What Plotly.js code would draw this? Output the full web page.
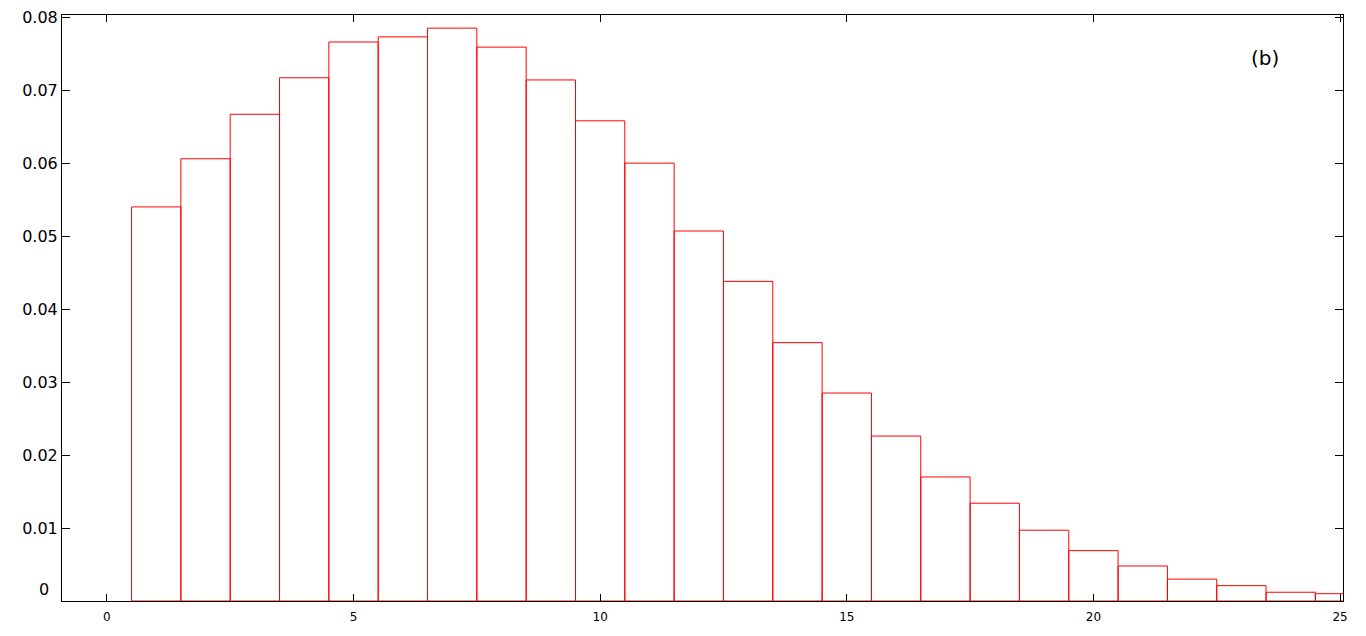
<!DOCTYPE html>
<html>
<head>
<meta charset="utf-8">
<script src="https://cdn.plot.ly/plotly-3.0.1.min.js"></script>
<style>
html,body{margin:0;padding:0;background:#fff;}
#chart{width:1366px;height:636px;}
</style>
</head>
<body>
<div id="chart"></div>
<script>
const binCenters = [1,2,3,4,5,6,7,8,9,10,11,12,13,14,15,16,17,18,19,20,21,22,23,24,25];
const frequencies = [0.0540,0.0606,0.0667,0.0717,0.0766,0.0773,0.0785,0.0759,0.0714,0.0658,
                     0.0600,0.0507,0.0438,0.0354,0.0285,0.0226,0.0170,0.0134,0.0097,0.0069,
                     0.0048,0.0030,0.0021,0.0012,0.0010];
const xTickVals = [0,5,10,15,20,25];
const yTickVals = [0,0.01,0.02,0.03,0.04,0.05,0.06,0.07,0.08];
const yTickText = ['','0.01','0.02','0.03','0.04','0.05','0.06','0.07','0.08'];
const yZeroLabel = '0';
const panelLabel = '(b)';

const trace = {
  type: 'bar',
  x: binCenters,
  y: frequencies,
  width: 1,
  marker: {color: 'rgba(0,0,0,0)', line: {color: '#ff0000', width: 1}},
  hoverinfo: 'x+y'
};

const layout = {
  width: 1366, height: 636,
  margin: {l: 62, r: 23, t: 15, b: 35, pad: 0},
  paper_bgcolor: '#ffffff', plot_bgcolor: '#ffffff',
  showlegend: false,
  bargap: 0,
  font: {family: 'DejaVu Sans, sans-serif', color: '#000000'},
  xaxis: {
    range: [-0.91, 25.06],
    tickvals: xTickVals,
    ticktext: xTickVals.map(String),
    ticks: 'inside', ticklen: 7, tickwidth: 1, tickcolor: '#000',
    showline: true, linecolor: '#000', linewidth: 1, mirror: 'ticks',
    showgrid: false, zeroline: false, layer: 'above traces',
    ticklabelstandoff: 5,
    tickfont: {size: 12, family: 'DejaVu Sans, sans-serif', color: '#000'}
  },
  yaxis: {
    range: [0, 0.0803],
    tickvals: yTickVals,
    ticktext: yTickText,
    ticks: 'inside', ticklen: 8, tickwidth: 1, tickcolor: '#000',
    showline: true, linecolor: '#000', linewidth: 1, mirror: 'ticks',
    showgrid: false, zeroline: false, layer: 'above traces',
    tickfont: {size: 16, family: 'DejaVu Sans, sans-serif', color: '#000'}
  },
  annotations: [{
    text: panelLabel, xref: 'paper', yref: 'paper',
    x: 0.939, y: 0.926, xanchor: 'center', yanchor: 'middle',
    showarrow: false, font: {size: 20, family: 'DejaVu Sans, sans-serif', color: '#000'}
  }, {
    text: yZeroLabel, xref: 'paper', yref: 'y',
    x: 0, y: 0, xanchor: 'right', yanchor: 'middle', xshift: -11, yshift: 12,
    showarrow: false, font: {size: 16, family: 'DejaVu Sans, sans-serif', color: '#000'}
  }]
};

Plotly.newPlot('chart', [trace], layout, {displayModeBar: false, staticPlot: true});
</script>
</body>
</html>
